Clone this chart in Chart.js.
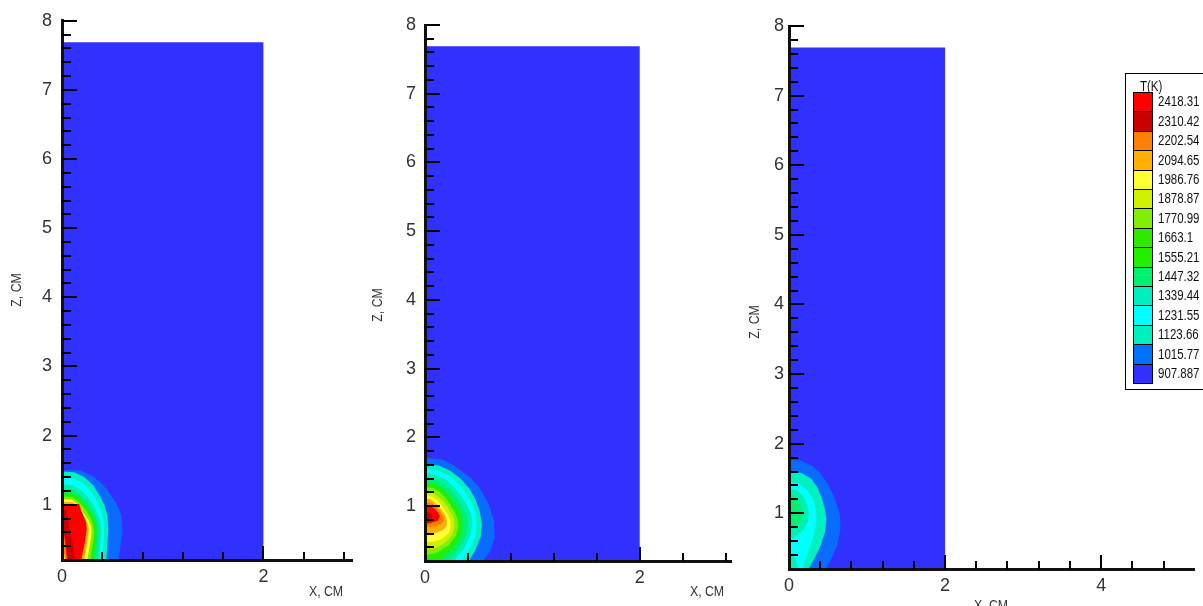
<!DOCTYPE html>
<html><head><meta charset="utf-8">
<script src="https://cdn.jsdelivr.net/npm/chart.js@4.4.1/dist/chart.umd.min.js"></script>
<style>
html,body{margin:0;padding:0;background:#fff;}
body{width:1203px;height:606px;position:relative;overflow:hidden;}
canvas{position:absolute;top:0;}
</style></head><body>
<canvas id="c1" width="370" height="606" style="left:0px"></canvas>
<canvas id="c2" width="375" height="606" style="left:370px"></canvas>
<canvas id="c3" width="458" height="620" style="left:745px"></canvas>
<script>
// ---------------- DATA ----------------
// legend levels, T(K)
const tempLevels = ['2418.31','2310.42','2202.54','2094.65','1986.76','1878.87','1770.99','1663.1','1555.21','1447.32','1339.44','1231.55','1123.66','1015.77','907.887'];
const legendTitle = 'T(K)';
const xTitle = 'X, СМ';
const zTitle = 'Z, СМ';

// computational domain (x, z in cm)
const domainRect = [[0,0.2],[2,0.2],[2,7.69],[0,7.69]];

// Panel 1 isotherm regions [x, z]
const p1Blue   = [[0,1.50],[0.18,1.50],[0.30,1.42],[0.40,1.30],[0.47,1.17],[0.54,1.02],[0.59,0.85],[0.60,0.62],[0.58,0.40],[0.56,0.20],[0,0.20]];
const p1Teal   = [[0,1.48],[0.12,1.47],[0.22,1.40],[0.31,1.28],[0.37,1.14],[0.42,1.00],[0.45,0.85],[0.46,0.64],[0.45,0.40],[0.44,0.20],[0,0.20]];
const p1Cyan   = [[0,1.40],[0.12,1.38],[0.21,1.31],[0.28,1.20],[0.34,1.07],[0.38,0.94],[0.41,0.80],[0.42,0.62],[0.41,0.40],[0.40,0.20],[0,0.20]];
const p1Teal2  = [[0,1.30],[0.11,1.28],[0.19,1.21],[0.26,1.11],[0.31,1.00],[0.35,0.88],[0.38,0.76],[0.39,0.62],[0.38,0.40],[0.37,0.20],[0,0.20]];
const p1GTeal  = [[0,1.24],[0.10,1.22],[0.18,1.15],[0.24,1.06],[0.29,0.96],[0.33,0.85],[0.355,0.74],[0.365,0.62],[0.355,0.40],[0.34,0.20],[0,0.20]];
const p1Green  = [[0,1.18],[0.10,1.16],[0.17,1.10],[0.22,1.02],[0.27,0.93],[0.31,0.83],[0.335,0.72],[0.345,0.62],[0.33,0.40],[0.31,0.20],[0,0.20]];
const p1Lime   = [[0,1.12],[0.10,1.11],[0.16,1.05],[0.21,0.97],[0.25,0.89],[0.29,0.79],[0.31,0.70],[0.32,0.60],[0.30,0.40],[0.28,0.20],[0,0.20]];
const p1Yellow = [[0,1.08],[0.10,1.07],[0.15,1.01],[0.19,0.93],[0.23,0.85],[0.27,0.76],[0.29,0.68],[0.295,0.60],[0.275,0.40],[0.25,0.20],[0,0.20]];
const p1Amber  = [[0,1.04],[0.11,1.04],[0.15,0.97],[0.18,0.90],[0.22,0.82],[0.25,0.74],[0.265,0.66],[0.26,0.55],[0.245,0.40],[0.22,0.20],[0,0.20]];
const p1Red    = [[0,1.01],[0.17,1.01],[0.19,0.92],[0.22,0.82],[0.24,0.74],[0.245,0.64],[0.235,0.52],[0.22,0.40],[0.19,0.20],[0,0.20]];
const p1DRed   = [[0,0.92],[0.04,0.92],[0.06,0.80],[0.08,0.62],[0.11,0.42],[0.13,0.20],[0.06,0.20],[0.045,0.40],[0.025,0.58],[0,0.68]];
const p1Orange = [[0,0.66],[0.02,0.56],[0.035,0.40],[0.05,0.20],[0,0.20]];
const p1Yel2   = [[0,0.40],[0.02,0.30],[0.03,0.20],[0,0.20]];

// Panel 2 isotherm regions
const p2Blue   = [[0,1.70],[0.15,1.68],[0.26,1.60],[0.35,1.50],[0.43,1.40],[0.51,1.26],[0.59,1.04],[0.64,0.80],[0.65,0.55],[0.61,0.35],[0.54,0.20],[0,0.20]];
const p2Teal   = [[0,1.61],[0.13,1.59],[0.24,1.51],[0.33,1.40],[0.41,1.26],[0.47,1.10],[0.51,0.92],[0.53,0.74],[0.52,0.56],[0.47,0.36],[0.41,0.20],[0,0.20]];
const p2Cyan   = [[0,1.54],[0.12,1.52],[0.22,1.44],[0.30,1.34],[0.37,1.21],[0.43,1.06],[0.47,0.90],[0.48,0.74],[0.47,0.56],[0.41,0.36],[0.34,0.20],[0,0.20]];
const p2Teal2  = [[0,1.47],[0.11,1.45],[0.20,1.38],[0.27,1.28],[0.33,1.16],[0.39,1.02],[0.43,0.88],[0.44,0.74],[0.42,0.56],[0.36,0.37],[0.27,0.20],[0,0.20]];
const p2GTeal  = [[0,1.41],[0.10,1.39],[0.18,1.32],[0.24,1.23],[0.30,1.12],[0.35,0.99],[0.39,0.86],[0.40,0.73],[0.38,0.56],[0.32,0.38],[0.21,0.20],[0,0.20]];
const p2Green  = [[0,1.34],[0.09,1.32],[0.16,1.26],[0.21,1.18],[0.26,1.07],[0.31,0.96],[0.34,0.85],[0.35,0.72],[0.33,0.56],[0.27,0.40],[0.13,0.20],[0,0.20]];
const p2Lime   = [[0,1.28],[0.08,1.26],[0.14,1.20],[0.19,1.12],[0.23,1.03],[0.27,0.93],[0.30,0.83],[0.31,0.71],[0.29,0.57],[0.22,0.43],[0.11,0.32],[0,0.28]];
const p2YGreen = [[0,1.22],[0.07,1.20],[0.12,1.14],[0.17,1.07],[0.21,0.99],[0.24,0.90],[0.27,0.81],[0.275,0.70],[0.25,0.58],[0.19,0.47],[0.10,0.39],[0,0.36]];
const p2Yellow = [[0,1.16],[0.06,1.14],[0.11,1.09],[0.15,1.02],[0.18,0.95],[0.215,0.87],[0.235,0.79],[0.24,0.70],[0.22,0.60],[0.16,0.52],[0.08,0.48],[0,0.47]];
const p2Amber  = [[0,1.11],[0.05,1.10],[0.09,1.05],[0.13,0.99],[0.16,0.93],[0.19,0.86],[0.205,0.79],[0.20,0.71],[0.17,0.65],[0.11,0.61],[0.05,0.59],[0,0.59]];
const p2Orange = [[0,1.06],[0.05,1.05],[0.09,1.01],[0.12,0.96],[0.15,0.90],[0.175,0.84],[0.17,0.77],[0.14,0.72],[0.08,0.70],[0,0.69]];
const p2Red    = [[0,1.00],[0.05,1.00],[0.09,0.96],[0.12,0.91],[0.14,0.85],[0.12,0.79],[0.07,0.76],[0,0.74]];
const p2DRed   = [[0,0.92],[0.04,0.91],[0.07,0.86],[0.06,0.80],[0.03,0.77],[0,0.76]];

// Panel 3 isotherm regions
const p3Blue   = [[0,1.77],[0.14,1.76],[0.30,1.68],[0.40,1.58],[0.48,1.45],[0.56,1.28],[0.62,1.10],[0.655,0.95],[0.66,0.78],[0.62,0.55],[0.55,0.36],[0.47,0.20],[0,0.20]];
const p3Teal   = [[0,1.60],[0.16,1.58],[0.28,1.50],[0.36,1.38],[0.42,1.22],[0.46,1.06],[0.48,0.92],[0.46,0.72],[0.40,0.52],[0.33,0.36],[0.25,0.20],[0,0.20]];
const p3Cyan   = [[0,1.45],[0.13,1.42],[0.23,1.34],[0.30,1.22],[0.34,1.08],[0.355,0.95],[0.34,0.80],[0.30,0.62],[0.25,0.45],[0.20,0.30],[0.18,0.20],[0,0.20]];
const p3Teal2  = [[0,1.36],[0.10,1.33],[0.18,1.25],[0.23,1.13],[0.255,1.00],[0.24,0.88],[0.19,0.77],[0.11,0.68],[0,0.62]];
const p3GTeal  = [[0,1.28],[0.07,1.26],[0.13,1.18],[0.165,1.07],[0.17,0.97],[0.14,0.87],[0.08,0.80],[0,0.77]];
const p3Teal3  = [[0,0.45],[0.05,0.40],[0.10,0.30],[0.12,0.20],[0,0.20]];

// ---------------- STYLE ----------------
const FONT = "'Liberation Sans',Arial,sans-serif";
const NARROW = 0.82;
const levelColors = ['#ff0000','#c80000','#ff8000','#ffb000','#ffff33','#d0f000','#80f000','#30e800','#20f000','#00f070','#00f0c0','#00ffff','#00f0c0','#0070ff','#3030ff'];
const bandColors = {bg:'#3030ff', blue:'#0a6cff', teal:'#00f0c0', cyan:'#00ffff', teal2:'#00f0b0', gteal:'#00f070',
  green:'#20f000', lime:'#80f000', ygreen:'#d0f000', yellow:'#ffff33', amber:'#ffb000', orange:'#ff8000', red:'#ff0000', dred:'#c80000'};

function narrowText(ctx, text, x, y, align) {
  ctx.save();
  ctx.translate(x, y); ctx.scale(NARROW, 1);
  ctx.textAlign = align; ctx.fillText(text, 0, 0);
  ctx.restore();
}

const inTicks = {
  id: 'inTicks',
  afterDraw(chart) {
    const ctx = chart.ctx, xs = chart.scales.x, ys = chart.scales.y, ca = chart.chartArea;
    ctx.save();
    ctx.strokeStyle = '#000'; ctx.lineWidth = 2;
    xs.ticks.forEach(t => {
      const v = t.value; if (Math.abs(v - xs.min) < 1e-6) return;
      const major = Math.abs(v / 2 - Math.round(v / 2)) < 1e-6;
      const px = Math.round(xs.getPixelForValue(v));
      ctx.beginPath(); ctx.moveTo(px, ca.bottom); ctx.lineTo(px, ca.bottom - (major ? 14 : 8)); ctx.stroke();
    });
    ys.ticks.forEach(t => {
      const v = t.value; if (Math.abs(v - ys.min) < 1e-6) return;
      const major = Math.abs(v - Math.round(v)) < 1e-6;
      const py = Math.round(ys.getPixelForValue(v));
      ctx.beginPath(); ctx.moveTo(ca.left, py); ctx.lineTo(ca.left + (major ? 15 : 9), py); ctx.stroke();
    });
    ctx.restore();
  }
};

const axisTitles = {
  id: 'axisTitles',
  afterDraw(chart, args, o) {
    const ctx = chart.ctx;
    ctx.save();
    ctx.font = '15px ' + FONT; ctx.fillStyle = '#333'; ctx.textBaseline = 'middle';
    narrowText(ctx, xTitle, o.xAt[0], o.xAt[1], o.xAlign);
    ctx.translate(o.yAt[0], o.yAt[1]); ctx.rotate(-Math.PI / 2);
    narrowText(ctx, zTitle, 0, 0, 'center');
    ctx.restore();
  }
};

const tempLegend = {
  id: 'tempLegend',
  afterDraw(chart, args, o) {
    if (!o.show) return;
    const ctx = chart.ctx, dx = o.offsetX;
    const left = 1125 - dx, top = 73, bottom = 389;
    ctx.save();
    ctx.fillStyle = '#fff'; ctx.fillRect(left, top, 120, bottom - top);
    ctx.strokeStyle = '#000'; ctx.lineWidth = 1;
    ctx.strokeRect(left + 0.5, top + 0.5, 120, bottom - top);
    ctx.font = '14px ' + FONT; ctx.textBaseline = 'middle';
    ctx.fillStyle = '#111'; narrowText(ctx, legendTitle, 1140 - dx, 87, 'left');
    const h = 19.4;
    tempLevels.forEach((lab, i) => {
      const y0 = Math.round(92 + i * h), y1 = Math.round(92 + (i + 1) * h);
      ctx.fillStyle = levelColors[i]; ctx.fillRect(1133 - dx, y0, 19, y1 - y0);
      ctx.strokeStyle = '#000'; ctx.strokeRect(1133.5 - dx, y0 + 0.5, 19, y1 - y0);
      ctx.fillStyle = '#111'; narrowText(ctx, lab, 1158 - dx, (y0 + y1) / 2 + 1, 'left');
    });
    ctx.restore();
  }
};

function makeChart(id, cfg) {
  const n = cfg.regions.length;
  const datasets = cfg.regions.map(([pts, key], i) => ({
    data: pts.map(([x, z]) => ({x: x, y: z})),
    order: n - i,
    showLine: true, fill: 'shape', backgroundColor: bandColors[key], borderColor: bandColors[key],
    borderWidth: 0, pointRadius: 0, pointHoverRadius: 0, tension: 0
  }));
  const tickFont = {family: FONT, size: 18};
  return new Chart(document.getElementById(id), {
    type: 'scatter',
    data: {datasets},
    plugins: [inTicks, axisTitles, tempLegend],
    options: {
      responsive: false, animation: false, events: [],
      layout: {padding: {left: 0, top: cfg.padTop, right: cfg.padRight, bottom: 0}},
      plugins: {legend: {display: false}, tooltip: {enabled: false},
        axisTitles: cfg.titles, tempLegend: cfg.legend},
      scales: {
        x: {type: 'linear', min: 0, max: cfg.xMax,
          afterFit: s => { s.height = cfg.xH; },
          grid: {display: false, drawTicks: false},
          border: {display: true, color: '#111', width: 3, z: 1},
          ticks: {stepSize: 0.4, autoSkip: false, includeBounds: false, maxRotation: 0, minRotation: 0,
            padding: cfg.xPad, color: '#333', font: tickFont,
            callback: v => Math.abs(v / 2 - Math.round(v / 2)) < 1e-6 ? String(Math.round(v)) : ''}},
        y: {type: 'linear', min: 0.2, max: 8,
          afterFit: s => { s.width = cfg.yW; },
          grid: {display: false, drawTicks: false},
          border: {display: true, color: '#111', width: 3, z: 1},
          ticks: {stepSize: 0.2, autoSkip: false, includeBounds: false,
            padding: cfg.yPad, color: '#333', font: tickFont,
            callback: v => Math.abs(v - Math.round(v)) < 1e-6 ? String(Math.round(v)) : ''}}
      }
    }
  });
}

makeChart('c1', {
  regions: [[domainRect,'bg'],[p1Blue,'blue'],[p1Teal,'teal'],[p1Cyan,'cyan'],[p1Teal2,'teal2'],[p1GTeal,'gteal'],
    [p1Green,'green'],[p1Lime,'lime'],[p1Yellow,'yellow'],[p1Amber,'amber'],[p1Red,'red'],[p1DRed,'dred'],[p1Orange,'orange'],[p1Yel2,'yellow']],
  xMax: 2.88, padTop: 19, padRight: 18, yW: 62, xH: 46, yPad: 10, xPad: 6,
  titles: {xAlign: 'right', xAt: [343, 592], yAt: [17, 290]}, legend: {show: false}
});
makeChart('c2', {
  regions: [[domainRect,'bg'],[p2Blue,'blue'],[p2Teal,'teal'],[p2Cyan,'cyan'],[p2Teal2,'teal2'],[p2GTeal,'gteal'],
    [p2Green,'green'],[p2Lime,'lime'],[p2YGreen,'ygreen'],[p2Yellow,'yellow'],[p2Amber,'amber'],[p2Orange,'orange'],[p2Red,'red'],[p2DRed,'dred']],
  xMax: 2.85, padTop: 25, padRight: 14, yW: 55, xH: 45, yPad: 9, xPad: 6,
  titles: {xAlign: 'right', xAt: [354, 592], yAt: [8, 305]}, legend: {show: false}
});
makeChart('c3', {
  regions: [[domainRect,'bg'],[p3Blue,'blue'],[p3Teal,'teal'],[p3Cyan,'cyan'],[p3Teal2,'teal2'],[p3GTeal,'gteal'],[p3Teal3,'teal2']],
  xMax: 5.19, padTop: 26, padRight: 9, yW: 44, xH: 51, yPad: 5, xPad: 6,
  titles: {xAlign: 'center', xAt: [246, 606], yAt: [10, 322]}, legend: {show: true, offsetX: 745}
});
</script>
</body></html>
